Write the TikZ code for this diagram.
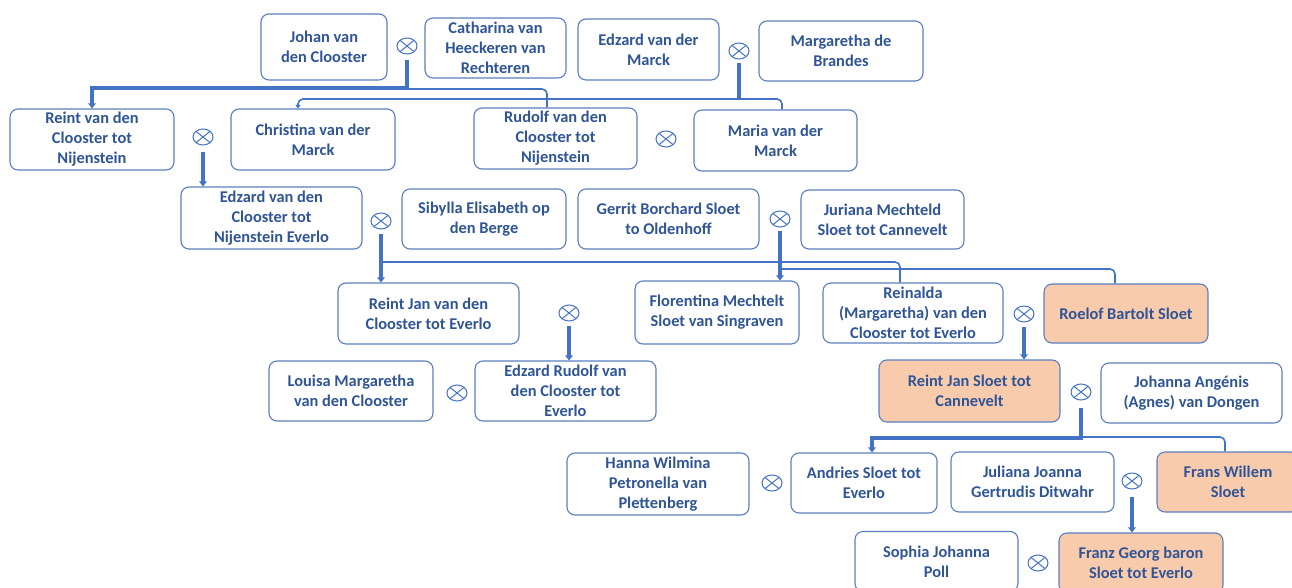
\documentclass[tikz,border=0pt]{standalone}
\usepackage{fontspec}
\setmainfont{Carlito}
\usetikzlibrary{arrows.meta,shapes.geometric}
\definecolor{txtblue}{HTML}{2F5597}
\definecolor{lineblue}{HTML}{4472C4}
\definecolor{boxblue}{HTML}{5B7EC0}
\definecolor{orangefill}{HTML}{F8CBAD}
\begin{document}
\begin{tikzpicture}[x=1pt,y=-1pt,
  pbox/.style={draw=boxblue, line width=1.1pt, rounded corners=8pt, fill=white, align=center,
    text=txtblue, font=\fontsize{16.4}{20}\selectfont\bfseries, inner sep=1pt},
  hl/.style={pbox, fill=orangefill},
  marry/.style={ellipse, draw=lineblue, line width=1pt, minimum width=20pt, minimum height=16pt, inner sep=0pt,
    path picture={
      \draw[lineblue,line width=1pt] ([shift={(-7.1pt,5.7pt)}]path picture bounding box.center) -- ([shift={(7.1pt,-5.7pt)}]path picture bounding box.center);
      \draw[lineblue,line width=1pt] ([shift={(-7.1pt,-5.7pt)}]path picture bounding box.center) -- ([shift={(7.1pt,5.7pt)}]path picture bounding box.center);}},
  thickl/.style={draw=lineblue, line width=3.5pt},
  arr/.style={-{Triangle[width=7.5pt,length=5pt]}},
  thinl/.style={draw=lineblue, line width=1.6pt, rounded corners=5pt}
]
\useasboundingbox (0,0) rectangle (1292,588);
\fill[white] (0,0) rectangle (1292,588);
\clip (0,0) rectangle (1292,588);

% row 1
\node[pbox, minimum width=126pt, minimum height=66pt] (johan) at (324,47) {Johan van\\den Clooster};
\node[pbox, minimum width=141pt, minimum height=60pt] (cath) at (495.5,48) {Catharina van\\Heeckeren van\\Rechteren};
\node[pbox, minimum width=141pt, minimum height=61pt] (edzm) at (648.5,49.5) {Edzard van der\\Marck};
\node[pbox, minimum width=164pt, minimum height=60pt] (marg) at (841,51) {Margaretha de\\Brandes};
% row 2
\node[pbox, minimum width=164pt, minimum height=61pt] (reint) at (92,139.5) {Reint van den\\Clooster tot\\Nijenstein};
\node[pbox, minimum width=164pt, minimum height=61pt] (christina) at (313,139.5) {Christina van der\\Marck};
\node[pbox, minimum width=163pt, minimum height=61pt] (rudolf) at (555.5,138.5) {Rudolf van den\\Clooster tot\\Nijenstein};
\node[pbox, minimum width=163pt, minimum height=61pt] (maria) at (775.5,140.5) {Maria van der\\Marck};
% row 3
\node[pbox, minimum width=181pt, minimum height=62pt] (edzc) at (271.5,218) {Edzard van den\\Clooster tot\\Nijenstein Everlo};
\node[pbox, minimum width=164pt, minimum height=60pt] (sibylla) at (484,219) {Sibylla Elisabeth op\\den Berge};
\node[pbox, minimum width=181pt, minimum height=60pt] (gerrit) at (668.5,219) {Gerrit Borchard Sloet\\to Oldenhoff};
\node[pbox, minimum width=163pt, minimum height=59pt] (juriana) at (882.5,219.5) {Juriana Mechteld\\Sloet tot Cannevelt};
% row 4
\node[pbox, minimum width=181pt, minimum height=61pt] (reintjan) at (428.5,313.5) {Reint Jan van den\\Clooster tot Everlo};
\node[pbox, minimum width=164pt, minimum height=63pt] (florentina) at (717,312.5) {Florentina Mechtelt\\Sloet van Singraven};
\node[pbox, minimum width=180pt, minimum height=60pt] (reinalda) at (913,313) {Reinalda\\(Margaretha) van den\\Clooster tot Everlo};
\node[hl, minimum width=164pt, minimum height=59pt] (roelof) at (1126,313.5) {Roelof Bartolt Sloet};
% row 5
\node[pbox, minimum width=164pt, minimum height=60pt] (louisa) at (351,391) {Louisa Margaretha\\van den Clooster};
\node[pbox, minimum width=181pt, minimum height=60pt] (edzr) at (565.5,391) {Edzard Rudolf van\\den Clooster tot\\Everlo};
\node[hl, minimum width=181pt, minimum height=62pt] (reintjs) at (969.5,391) {Reint Jan Sloet tot\\Cannevelt};
\node[pbox, minimum width=181pt, minimum height=60pt] (johanna) at (1191.5,393) {Johanna Angénis\\(Agnes) van Dongen};
% row 6
\node[pbox, minimum width=182pt, minimum height=62pt] (hanna) at (658,484) {Hanna Wilmina\\Petronella van\\Plettenberg};
\node[pbox, minimum width=146pt, minimum height=60pt] (andries) at (864,483) {Andries Sloet tot\\Everlo};
\node[pbox, minimum width=163pt, minimum height=60pt] (juliana) at (1032.5,482) {Juliana Joanna\\Gertrudis Ditwahr};
\node[hl, minimum width=142pt, minimum height=60pt] (frans) at (1228,482) {Frans Willem\\Sloet};
% row 7
\node[pbox, minimum width=163pt, minimum height=60pt] (sophia) at (936.5,561.5) {Sophia Johanna\\Poll};
\node[hl, minimum width=164pt, minimum height=60pt] (franz) at (1141,563) {Franz Georg baron\\Sloet tot Everlo};

% marriage symbols
\node[marry] (m1) at (407,46) {};
\node[marry] (m2) at (739,51) {};
\node[marry] (m3) at (203,137) {};
\node[marry] (m4) at (666,139) {};
\node[marry] (m5) at (381,221) {};
\node[marry] (m6) at (780,219) {};
\node[marry] (m7) at (569,313) {};
\node[marry] (m8) at (1024,314) {};
\node[marry] (m9) at (457,393) {};
\node[marry] (m10) at (1081,392) {};
\node[marry] (m11) at (772,483) {};
\node[marry] (m12) at (1132,481) {};
\node[marry] (m13) at (1038,563) {};

% junction levels and entry points
\coordinate (hA) at (0,88);
\coordinate (hA2) at (0,89);
\coordinate (hB) at (0,99);
\coordinate (hD) at (0,262);
\coordinate (hE) at (0,269);
\coordinate (hH) at (0,438);
\coordinate (hH2) at (0,437);
\coordinate (rudIn) at ([xshift=-8.5pt]rudolf.north);
\coordinate (chrIn) at ([xshift=-15pt]christina.north);
\coordinate (marIn) at ([xshift=6.5pt]maria.north);
\coordinate (reinIn) at ([xshift=-13pt]reinalda.north);
\coordinate (roeIn) at ([xshift=-11pt]roelof.north);
\coordinate (andIn) at ([xshift=8pt]andries.north);
\coordinate (fraIn) at ([xshift=-3pt]frans.north);

% family A
\draw[thinl] (m1 |- hA2) -| (rudIn);
\draw[thickl, arr, shorten <=6pt] (m1.south) -- (m1 |- hA) -| (reint.north);
% family B
\draw[thinl, {Triangle[width=5pt,length=3.5pt]}-] (chrIn) -- (chrIn |- hB) -- (marIn |- hB) -- (marIn);
\draw[thickl, shorten <=4pt] (m2.south) -- ([yshift=-1pt]m2 |- hB);
% family C
\draw[thickl, arr, shorten <=7pt] (m3.south) -- (m3 |- edzc.north);
% family D
\draw[thinl] (m5 |- hD) -| (reinIn);
\draw[thickl, arr, shorten <=4pt] (m5.south) -- (m5 |- reintjan.north);
% family E
\draw[thinl] (m6 |- hE) -| (roeIn);
\draw[thickl, arr, shorten <=3pt] (m6.south) -- (m6 |- florentina.north);
% family F
\draw[thickl, arr, shorten <=4pt] (m7.south) -- (m7 |- edzr.north);
% family G
\draw[thickl, arr, shorten <=4pt] (m8.south) -- (m8 |- reintjs.north);
% family H
\draw[thinl] (m10 |- hH2) -| (fraIn);
\draw[thickl, arr, shorten <=7pt] (m10.south) -- (m10 |- hH) -| (andIn);
% family I
\draw[thickl, arr, shorten <=7pt] (m12.south) -- (m12 |- franz.north);
\end{tikzpicture}
\end{document}
